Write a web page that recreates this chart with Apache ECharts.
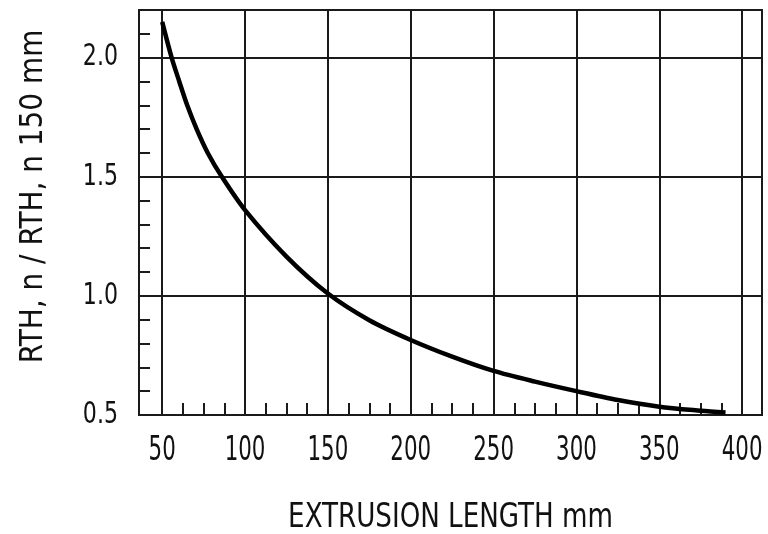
<!DOCTYPE html>
<html>
<head>
<meta charset="utf-8">
<script src="https://cdn.jsdelivr.net/npm/echarts@6/dist/echarts.min.js"></script>
<style>html,body{margin:0;padding:0;background:#fff}#c{width:768px;height:534px}</style>
</head>
<body>
<div id="c"></div>
<script>
// Curve: extrusion length (mm) vs RTH ratio
const lengthMm = [50, 55.7, 60.3, 65.1, 70.8, 77.5, 86, 100, 125, 150, 175, 200, 225, 250, 275, 300, 325, 350, 375, 390];
const rthRatio = [2.15, 2.0, 1.9, 1.8, 1.7, 1.6, 1.5, 1.36, 1.165, 1.01, 0.898, 0.815, 0.745, 0.685, 0.64, 0.60, 0.563, 0.535, 0.518, 0.51];

const xTickLabels = [50, 100, 150, 200, 250, 300, 350, 400];
const yTickLabels = [0.5, 1.0, 1.5, 2.0];
const xMinorTicks = [62.5, 75, 87.5, 112.5, 125, 137.5, 162.5, 175, 187.5, 212.5, 225, 237.5, 262.5, 275, 287.5, 312.5, 325, 337.5, 362.5, 375, 387.5];
const yMinorTicks = [0.6, 0.7, 0.8, 0.9, 1.1, 1.2, 1.3, 1.4, 1.6, 1.7, 1.8, 1.9, 2.1];
const xRange = [36, 412];
const yRange = [0.5, 2.2];

const xTitle = 'EXTRUSION LENGTH mm';
const yTitle = 'RTH, n / RTH, n 150 mm';

const FONT = '"DejaVu Sans Condensed", "Liberation Sans Narrow", sans-serif';
const INK = '#1a1a1a';
const TXT = '#111';

const chart = echarts.init(document.getElementById('c'), null, {renderer: 'canvas'});

const gridLines = [];
xTickLabels.forEach(v => gridLines.push({xAxis: v}));
yTickLabels.forEach(v => gridLines.push({yAxis: v}));

chart.setOption({
  animation: false,
  backgroundColor: '#fff',
  grid: {left: 139, top: 10, right: 6, bottom: 119, show: true, borderColor: INK, borderWidth: 2, backgroundColor: 'transparent'},
  xAxis: {
    type: 'value', min: xRange[0], max: xRange[1],
    axisLine: {show: false},
    splitLine: {show: false},
    axisTick: {show: true, inside: true, length: 12, customValues: xMinorTicks, lineStyle: {color: INK, width: 2}},
    axisLabel: {show: false}
  },
  yAxis: {
    type: 'value', min: yRange[0], max: yRange[1],
    axisLine: {show: false},
    splitLine: {show: false},
    axisTick: {show: true, inside: true, length: 11, customValues: yMinorTicks, lineStyle: {color: INK, width: 2}},
    axisLabel: {show: false}
  },
  series: [{
    type: 'line',
    data: lengthMm.map((x, i) => [x, rthRatio[i]]),
    smooth: 0.3,
    symbol: 'none',
    lineStyle: {color: '#000', width: 4.5},
    z: 5,
    markLine: {
      silent: true, symbol: 'none', label: {show: false},
      lineStyle: {color: INK, width: 2, type: 'solid'},
      data: gridLines,
      z: 1
    }
  }]
});

// Condensed tick labels and titles, positioned from the chart's own scales
const toPx = (x, y) => chart.convertToPixel({gridIndex: 0}, [x, y]);
const gridBottom = toPx(xRange[0], yRange[0])[1];
const gridLeft = toPx(xRange[0], yRange[0])[0];
const gridRight = toPx(xRange[1], yRange[0])[0];
const graphics = [];
xTickLabels.forEach(v => {
  const p = toPx(v, yRange[0]);
  graphics.push({type: 'text', x: p[0], y: gridBottom + 36, scaleX: 0.72,
    style: {text: String(v), fontFamily: FONT, fontSize: 33, fill: TXT, textAlign: 'center', textVerticalAlign: 'middle'}});
});
yTickLabels.forEach(v => {
  const p = toPx(xRange[0], v);
  graphics.push({type: 'text', x: gridLeft - 21, y: p[1], scaleX: 0.82,
    style: {text: v.toFixed(1), fontFamily: FONT, fontSize: 30, fill: TXT, textAlign: 'right', textVerticalAlign: 'middle'}});
});
graphics.push({type: 'text', x: (gridLeft + gridRight) / 2, y: gridBottom + 103, scaleX: 0.855,
  style: {text: xTitle, fontFamily: FONT, fontSize: 34, fill: TXT, textAlign: 'center', textVerticalAlign: 'middle'}});
graphics.push({type: 'text', x: 33.5, y: 196.5, rotation: Math.PI / 2, scaleX: 0.985,
  style: {text: yTitle, fontFamily: FONT, fontSize: 31.5, fill: TXT, textAlign: 'center', textVerticalAlign: 'middle'}});
chart.setOption({graphic: graphics});
</script>
</body>
</html>
